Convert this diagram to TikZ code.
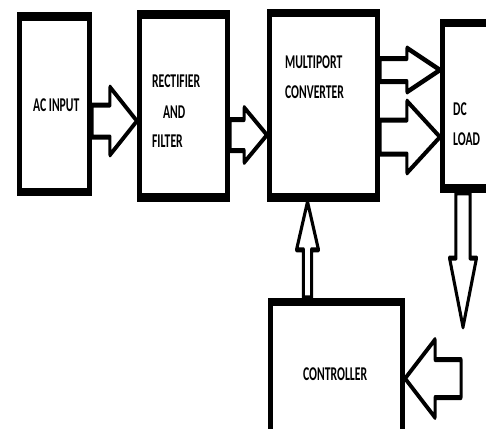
\documentclass[tikz,border=0pt]{standalone}
\usepackage{fontspec}
\setmainfont{Carlito}
\usetikzlibrary{calc,positioning}

\tikzset{
  blk/.style={draw, line width=8.5pt, inner sep=0pt},
  blockarr/.style={draw, line width=5pt, line join=round},
  lbl/.style={anchor=base west, inner sep=0pt, font=\fontsize{19.5}{24}\selectfont\bfseries},
}

% hollow block arrow: start, tip, body half width, head half width, head length
\newcommand\blockarrow[5]{%
  \coordinate (ba) at (#1);
  \coordinate (bt) at (#2);
  \coordinate (bh) at ($(bt)!#5!(ba)$);
  \draw[blockarr] ($(ba)!#3!90:(bt)$) -- ($(bh)!#3!-90:(ba)$) -- ($(bh)!#4!-90:(ba)$) -- (bt)
    -- ($(bh)!#4!90:(ba)$) -- ($(bh)!#3!90:(ba)$) -- ($(ba)!#3!-90:(bt)$) -- cycle;
}

\begin{document}
\begin{tikzpicture}
  \path[use as bounding box, fill=white] (0,0) rectangle (486pt,-428pt);
  \clip (0,0) rectangle (486pt,-428pt);
  \begin{scope}[transform canvas={xscale=0.6}, x=1.6667pt, y=-1pt]
    % blocks
    \node[blk, minimum width=116.67pt, minimum height=175.5pt] (ac) at (54.5,104.25) {};
    \node[blk, minimum width=146.67pt, minimum height=183pt] (rect) at (183.5,106) {};
    \node[blk, minimum width=180pt, minimum height=184.5pt] (mpc) at (323.5,105.25) {};
    \node[blk, minimum width=112.5pt, minimum height=165.5pt] (load) at (476.25,105.75) {};
    \node[blk, minimum width=220pt, minimum height=143pt] (ctrl) at (336.5,373.5) {};
    % texts
    \node[lbl] (tac) at (33,111) {AC INPUT};
    \node[lbl] (trect1) at (152,87) {RECTIFIER};
    \node[lbl] (trect2) at (163,118) {AND};
    \node[lbl] (trect3) at (152,147) {FILTER};
    \node[lbl] (tmpc1) at (285,68) {MULTIPORT};
    \node[lbl] (tmpc2) at (285,98) {CONVERTER};
    \node[lbl] (tload1) at (453,115) {DC};
    \node[lbl] (tload2) at (453,145) {LOAD};
    \node[lbl] (tctrl) at (303,380) {CONTROLLER};
    % arrow rows and free ends
    \coordinate (r1) at (0,121);
    \coordinate (r2) at (0,135);
    \coordinate (r3) at (0,70);
    \coordinate (r4) at (0,137);
    \coordinate (c4) at (463,327);
    \coordinate (c5) at (307.5,0);
    \coordinate (c6) at (461,378.5);
    % arrows
    \blockarrow{ac.east |- r1}{rect.west |- r1}{16pt}{34pt}{45pt}
    \blockarrow{rect.east |- r2}{mpc.west |- r2}{15.5pt}{27.5pt}{38pt}
    \blockarrow{mpc.east |- r3}{load.west |- r3}{11.5pt}{22pt}{55pt}
    \blockarrow{mpc.east |- r4}{load.west |- r4}{17pt}{36pt}{55pt}
    \blockarrow{load.south -| c4}{c4}{11.7pt}{22.5pt}{69pt}
    \blockarrow{ctrl.north -| c5}{mpc.south -| c5}{6.7pt}{18.3pt}{48pt}
    \blockarrow{c6}{ctrl.east |- c6}{19pt}{39pt}{50pt}
  \end{scope}
\end{tikzpicture}
\end{document}
